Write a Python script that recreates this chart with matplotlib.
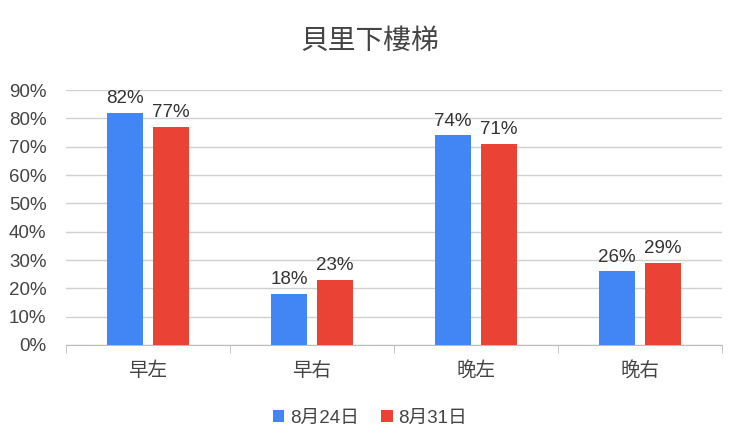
import matplotlib
matplotlib.use("Agg")
import matplotlib.pyplot as plt
import numpy as np
from matplotlib.ticker import FuncFormatter, MultipleLocator

plt.rcParams['font.family'] = ['Liberation Sans', 'Noto Sans CJK TC', 'DejaVu Sans']

title = "貝里下樓梯"
categories = ["早左", "早右", "晚左", "晚右"]
series_names = ["8月24日", "8月31日"]
s1 = [82, 18, 74, 26]
s2 = [77, 23, 71, 29]
colors = ["#4285F4", "#EA4335"]

fig = plt.figure(figsize=(7.4, 4.44), dpi=100)
ax = fig.add_axes([0.089, 0.223, 0.887, 0.574])

x = np.arange(len(categories))
w = 0.22
gap = 0.06
off = (w + gap) / 2
b1 = ax.bar(x - off, np.array(s1) / 100, w, color=colors[0], label=series_names[0], zorder=3)
b2 = ax.bar(x + off, np.array(s2) / 100, w, color=colors[1], label=series_names[1], zorder=3)
for bars, vals in ((b1, s1), (b2, s2)):
    for r, v in zip(bars, vals):
        ax.annotate(f"{v}%", (r.get_x() + r.get_width() / 2, r.get_height()),
                    xytext=(0, 4), textcoords="offset points", ha="center", va="bottom",
                    fontsize=13.5, color="#333333")

ax.set_xlim(-0.5, len(categories) - 0.5)
ax.set_ylim(0, 0.9)
ax.yaxis.set_major_locator(MultipleLocator(0.1))
ax.yaxis.set_major_formatter(FuncFormatter(lambda v, p: f"{round(v*100)}%"))
ax.grid(axis="y", color="#d0d0d0", linewidth=1, zorder=0)
for s in ("top", "right", "left"):
    ax.spines[s].set_visible(False)
ax.spines["bottom"].set_color("#bbbbbb")
ax.tick_params(axis="y", length=0, labelsize=13.5, labelcolor="#444444", pad=14)
ax.set_xticks(x)
ax.set_xticklabels(categories, fontsize=14)
ax.tick_params(axis="x", length=0, labelcolor="#444444", pad=12)
ax.set_xticks(np.arange(len(categories) + 1) - 0.5, minor=True)
ax.tick_params(axis="x", which="minor", length=6, color="#bbbbbb")

fig.text(0.5, 0.905, title, ha="center", va="center", fontsize=20, color="#444444")
fig.legend(handles=[b1, b2], labels=series_names, loc="center", bbox_to_anchor=(0.5, 0.058),
           ncol=2, frameon=False, fontsize=13.5, handlelength=0.6, handleheight=0.6,
           handletextpad=0.3, columnspacing=1.2, labelcolor="#444444")

fig.savefig("out.png", dpi=100, facecolor="white")
